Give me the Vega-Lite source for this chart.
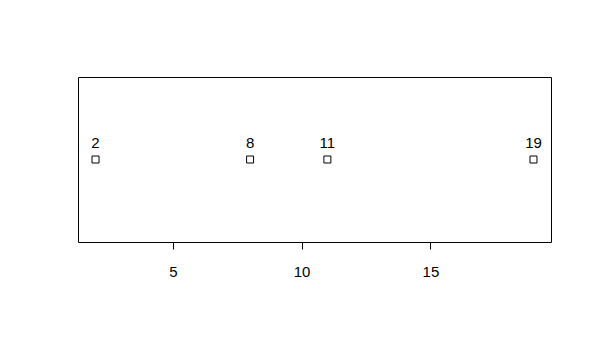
{
  "$schema": "https://vega.github.io/schema/vega-lite/v6.json",
  "width": 473,
  "height": 165,
  "autosize": {"type": "none"},
  "padding": {"left": 78, "top": 77, "right": 41, "bottom": 99},
  "background": "white",
  "config": {
    "view": {"stroke": "black", "strokeWidth": 1},
    "font": "Liberation Sans"
  },
  "data": {"values": [{"v": 2, "y": 1}, {"v": 8, "y": 1}, {"v": 11, "y": 1}, {"v": 19, "y": 1}]},
  "encoding": {
    "x": {
      "field": "v", "type": "quantitative",
      "scale": {"domain": [1.32, 19.68], "nice": false, "zero": false},
      "axis": {"title": null, "values": [5, 10, 15], "grid": false, "domain": false,
               "tickColor": "black", "tickSize": 7, "labelColor": "black", "labelFontSize": 15,
               "labelFont": "Liberation Sans", "labelPadding": 15}
    },
    "y": {
      "field": "y", "type": "quantitative",
      "scale": {"domain": [0, 2]},
      "axis": null
    }
  },
  "layer": [
    {"mark": {"type": "point", "shape": "square", "filled": false, "color": "black", "size": 49, "strokeWidth": 1, "opacity": 1}},
    {"mark": {"type": "text", "dy": -17, "fontSize": 15, "color": "black", "font": "Liberation Sans", "baseline": "middle"},
     "encoding": {"text": {"field": "v", "type": "quantitative"}}}
  ]
}
